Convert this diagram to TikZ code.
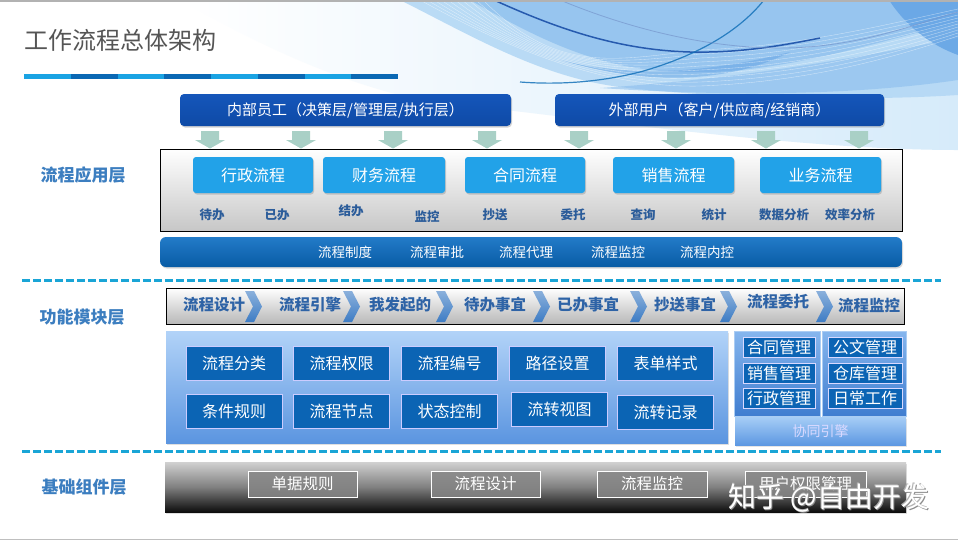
\documentclass[tikz,border=0pt]{standalone}
\usepackage{fontspec}
\setmainfont{Noto Sans CJK SC}
\usetikzlibrary{shadows}
\definecolor{titlegray}{HTML}{555555}
\definecolor{barlt}{HTML}{1AA3E3}
\definecolor{bardk}{HTML}{0A68B4}
\definecolor{userblue}{HTML}{1556BA}
\definecolor{userblue2}{HTML}{0E4AA6}
\definecolor{arrowgreen}{HTML}{A9D0C6}
\definecolor{btnblue}{HTML}{22A2E8}
\definecolor{sublbl}{HTML}{2B5C9A}
\definecolor{appbar}{HTML}{0A6CC2}
\definecolor{dashcol}{HTML}{1AA5D6}
\definecolor{layerlbl}{HTML}{3C7EC0}
\definecolor{chevtext}{HTML}{2E63A6}
\definecolor{chevblue}{HTML}{3D7CC4}
\definecolor{fnbox}{HTML}{0B64B4}
\definecolor{fntop}{HTML}{B2D3F8}
\definecolor{fnbot}{HTML}{5B95E0}
\definecolor{coltop}{HTML}{86B6EE}
\definecolor{colbot}{HTML}{3F7DD0}
\definecolor{cbtop}{HTML}{A6CDF6}
\definecolor{cbbot}{HTML}{5D98E2}
\definecolor{wavelt}{HTML}{D6EBFA}
\definecolor{waveband}{HTML}{B4D8F5}
\definecolor{wavemid}{HTML}{86BBEC}
\definecolor{waveblue}{HTML}{5D9FE3}
\definecolor{wavedk}{HTML}{1A4FA8}
\tikzset{
  px/.style={font=\fontsize{#1}{#1}\selectfont},
  userbox/.style={rounded corners=4pt, top color=userblue, bottom color=userblue2, text=white, px=15, minimum height=32pt, inner sep=0pt, drop shadow={opacity=0.35, shadow xshift=1pt, shadow yshift=-1.5pt}},
  appframe/.style={draw=black, line width=0.8pt, top color=white, bottom color=black!22, inner sep=0pt},
  appbtn/.style={rounded corners=3pt, fill=btnblue, text=white, px=16, minimum height=36pt, inner sep=0pt, drop shadow={opacity=0.35, shadow xshift=1pt, shadow yshift=-1.5pt}},
  sublabel/.style={text=sublbl, font=\fontsize{12.5}{13}\selectfont\bfseries, inner sep=0pt},
  appbarst/.style={rounded corners=6pt, top color=appbar!90!white, bottom color=appbar!85!black, inner sep=0pt, drop shadow={opacity=0.3, shadow xshift=1pt, shadow yshift=-1.5pt}},
  bartext/.style={text=white, px=13.5, inner sep=0pt},
  dashline/.style={draw=dashcol, line width=3pt, dash pattern=on 8pt off 3pt},
  layerlabel/.style={text=layerlbl, font=\fontsize{17}{18}\selectfont\bfseries, inner sep=0pt},
  chevbar/.style={draw=black, line width=0.8pt, top color=white, bottom color=black!28, inner sep=0pt},
  chevitem/.style={text=chevtext, font=\fontsize{15.5}{16}\selectfont\bfseries, inner sep=0pt},
  fnpanel/.style={top color=fntop, bottom color=fnbot, inner sep=0pt, drop shadow={opacity=0.25, shadow xshift=1pt, shadow yshift=-1.5pt}},
  fnboxst/.style={fill=fnbox, draw=white!80!blue, line width=0.8pt, text=white, px=16, minimum width=96pt, minimum height=34pt, inner sep=0pt},
  colcol/.style={top color=coltop, bottom color=colbot, draw=coltop!70!white, line width=0.6pt, inner sep=0pt},
  colbox/.style={fill=fnbox, draw=white!85!blue, line width=0.8pt, text=white, px=16, minimum width=72pt, minimum height=20pt, inner sep=0pt},
  colbar/.style={top color=cbtop, bottom color=cbbot, text=white!85!blue, px=14, inner sep=0pt, drop shadow={opacity=0.2, shadow xshift=1pt, shadow yshift=-1.5pt}},
  basebox/.style={top color=black!18, bottom color=black!95, middle color=black!50, inner sep=0pt, drop shadow={opacity=0.25, shadow xshift=1pt, shadow yshift=-1.5pt}},
  baseitem/.style={fill=black!48, fill opacity=0.85, text opacity=1, draw=white, line width=0.9pt, text=white, px=15.5, minimum height=26pt, inner sep=0pt},
  wmark/.style={font=\fontsize{28}{30}\selectfont, inner sep=0pt}
}
\begin{document}
\begin{tikzpicture}[x=1pt,y=-1pt]
\useasboundingbox (0,0) rectangle (958,542);
\fill[white] (0,0) rectangle (958,542);
% ---- background waves
\shade[left color=white, right color=wavelt] (180,0) -- (958,0) -- (958,150) .. controls (800,150) and (600,120) .. (420,100) .. controls (330,80) and (250,40) .. (180,0) -- cycle;
\fill[waveband, opacity=0.9] (400,0) -- (958,0) -- (958,95) .. controls (850,102) and (700,97) .. (620,87) .. controls (540,77) and (470,35) .. (400,0) -- cycle;
\fill[wavemid, opacity=0.65] (470,0) .. controls (540,40) and (600,70) .. (680,72) .. controls (770,75) and (850,50) .. (958,22) -- (958,0) -- cycle;
\fill[wavemid, opacity=0.55] (600,88) .. controls (720,80) and (820,65) .. (958,38) -- (958,80) .. controls (850,96) and (720,96) .. (600,88) -- cycle;
\fill[waveblue, opacity=0.45] (560,60) .. controls (640,80) and (720,70) .. (790,52) .. controls (740,78) and (660,90) .. (560,60) -- cycle;
\fill[waveblue, opacity=0.75] (889,0) .. controls (905,25) and (930,45) .. (958,55) -- (958,0) -- cycle;
\foreach \k in {0,...,9}{
  \draw[white, line width=0.35pt, opacity=0.55] (420+\k*7,0) .. controls (520+\k*4,55+\k*2) and (610,88-\k*3) .. (700,86-\k*4) .. controls (800,82-\k*4) and (880,62-\k*4) .. (958,36-\k*3);
}
\draw[wavedk, line width=1.5pt, opacity=0.9] (494,0) .. controls (560,30) and (620,50) .. (690,52) .. controls (740,53) and (780,46) .. (820,38);
\draw[wavedk!80!cyan, line width=1.2pt, opacity=0.85] (764,0) .. controls (740,30) and (700,55) .. (640,72) .. controls (600,82) and (560,85) .. (520,82);
\draw[wavedk!60!white, line width=0.8pt, opacity=0.7] (560,0) .. controls (620,25) and (700,48) .. (780,48) .. controls (860,48) and (920,22) .. (958,12);
\fill[black!30] (0,0) rectangle (958,1.5);
\fill[black!25] (0,538.5) rectangle (958,540);
% ---- title
\node[anchor=west, text=titlegray, px=24, inner sep=0pt] (title) at (24,40) {工作流程总体架构};
\foreach \i in {0,...,7}{
  \pgfmathsetmacro{\xa}{24+\i*46.75}
  \pgfmathsetmacro{\xb}{24+(\i+1)*46.75}
  \ifodd\i \fill[bardk] (\xa,74) rectangle (\xb,79); \else \fill[barlt] (\xa,74) rectangle (\xb,79); \fi
}
% ---- users
\node[userbox, minimum width=331pt] (inner) at (345.5,110) {内部员工（决策层/管理层/执行层）};
\node[userbox, minimum width=329pt] (outer) at (719.5,110) {外部用户（客户/供应商/经销商）};
\foreach \c in {210,301,393,487,579,676,766,859}{
  \fill[arrowgreen] (\c-9,131) -- (\c+9,131) -- (\c+9,140) -- (\c+15,140) -- (\c,148.5) -- (\c-15,140) -- (\c-9,140) -- cycle;
}
% ---- application layer
\node[layerlabel] (lay1) at (83,175) {流程应用层};
\node[appframe, minimum width=742pt, minimum height=82pt] (appbox) at (531,190) {};
\node[appbtn, minimum width=120pt] (b1) at (253,175) {行政流程};
\node[appbtn, minimum width=122pt] (b2) at (384,175) {财务流程};
\node[appbtn, minimum width=120pt] (b3) at (525,175) {合同流程};
\node[appbtn, minimum width=121pt] (b4) at (673.5,175) {销售流程};
\node[appbtn, minimum width=121pt] (b5) at (820.5,175) {业务流程};
\node[sublabel] (s1) at (212,215) {待办};
\node[sublabel] (s2) at (277,215) {已办};
\node[sublabel] (s3) at (351,211) {结办};
\node[sublabel] (s4) at (427,217) {监控};
\node[sublabel] (s5) at (495,215) {抄送};
\node[sublabel] (s6) at (573,215) {委托};
\node[sublabel] (s7) at (643,215) {查询};
\node[sublabel] (s8) at (714,215) {统计};
\node[sublabel] (s9) at (784,215) {数据分析};
\node[sublabel] (s10) at (850,215) {效率分析};
\node[appbarst, minimum width=742pt, minimum height=30pt] (abar) at (531,252) {};
\node[bartext] (t1) at (345,252) {流程制度};
\node[bartext] (t2) at (437,252) {流程审批};
\node[bartext] (t3) at (526,252) {流程代理};
\node[bartext] (t4) at (618,252) {流程监控};
\node[bartext] (t5) at (707,252) {流程内控};
\draw[dashline] (22,280) -- (941,280);
% ---- function layer
\node[layerlabel] (lay2) at (82,317) {功能模块层};
\node[chevbar, minimum width=738pt, minimum height=36pt] (cbar) at (535,306) {};
\node[chevitem] (c1) at (214,305) {流程设计};
\node[chevitem] (c2) at (310,305) {流程引擎};
\node[chevitem] (c3) at (400,305) {我发起的};
\node[chevitem] (c4) at (495,305) {待办事宜};
\node[chevitem] (c5) at (588,305) {已办事宜};
\node[chevitem] (c6) at (685,305) {抄送事宜};
\node[chevitem] (c7) at (778,302) {流程委托};
\node[chevitem] (c8) at (869,306) {流程监控};
\foreach \c in {253,351,444,541,638,728,824}{
  \shade[top color=chevblue!60!white, bottom color=chevblue] (\c-8,291) -- (\c+1,291) -- (\c+9,306.5) -- (\c+1,322) -- (\c-8,322) -- (\c,306.5) -- cycle;
}
\node[fnpanel, minimum width=562pt, minimum height=112pt] (fpanel) at (447,387) {};
\node[fnboxst] (f1) at (234,363) {流程分类};
\node[fnboxst] (f2) at (341.5,363) {流程权限};
\node[fnboxst] (f3) at (449.5,363) {流程编号};
\node[fnboxst] (f4) at (557.5,363) {路径设置};
\node[fnboxst] (f5) at (665.5,363) {表单样式};
\node[fnboxst] (f6) at (234,411.5) {条件规则};
\node[fnboxst] (f7) at (341.5,411.5) {流程节点};
\node[fnboxst] (f8) at (449.5,411.5) {状态控制};
\node[fnboxst] (f9) at (559.5,409.5) {流转视图};
\node[fnboxst] (f10) at (665.5,412.5) {流转记录};
% collaboration
\node[colcol, minimum width=86pt, minimum height=85pt] (ccl) at (777,373.5) {};
\node[colcol, minimum width=84pt, minimum height=85pt] (ccr) at (864,373.5) {};
\node[colbar, minimum width=171pt, minimum height=28pt] (cbot) at (820.5,431) {协同引擎};
\node[colbox] (g1) at (779,347) {合同管理};
\node[colbox] (g2) at (779,373) {销售管理};
\node[colbox] (g3) at (779,398) {行政管理};
\node[colbox, minimum width=74pt] (g4) at (865,347) {公文管理};
\node[colbox, minimum width=74pt] (g5) at (865,373) {仓库管理};
\node[colbox, minimum width=74pt] (g6) at (865,398) {日常工作};
\draw[dashline] (22,451) -- (941,451);
% ---- base layer
\node[layerlabel] (lay3) at (84,487) {基础组件层};
\node[basebox, minimum width=741pt, minimum height=50pt] (bbox) at (535.5,487) {};
\node[baseitem, minimum width=109pt] (d1) at (302.5,484) {单据规则};
\node[baseitem, minimum width=109pt] (d2) at (485.5,484) {流程设计};
\node[baseitem, minimum width=110pt] (d3) at (652,484) {流程监控};
\node[baseitem, minimum width=121pt] (d4) at (805.5,484) {用户权限管理};
% watermark
\node[wmark, text=black!45] (wm1) at (829.8,498.8) {知乎 @自由开发};
\node[wmark, text=black!30] (wm2) at (828.4,497.4) {知乎 @自由开发};
\node[wmark, text=white] (wm3) at (829,498) {知乎 @自由开发};
\end{tikzpicture}
\end{document}
